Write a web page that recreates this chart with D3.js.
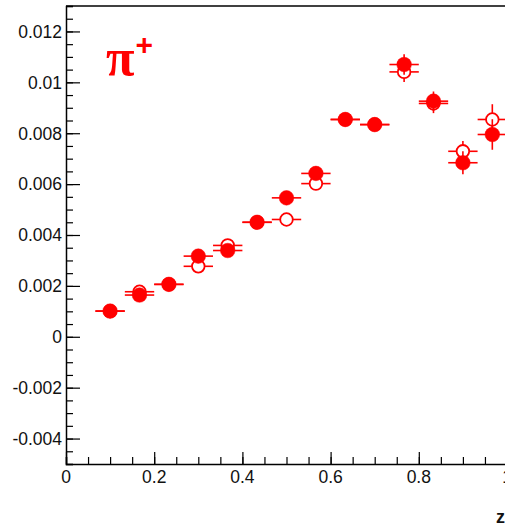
<!DOCTYPE html>
<html><head><meta charset="utf-8">
<script src="https://cdn.jsdelivr.net/npm/d3@7"></script>
<style>body{margin:0;background:#fff;overflow:hidden}</style>
</head><body>
<svg id="c" width="505" height="529"></svg>
<script>
const zBins = [0.1, 0.1667, 0.2333, 0.3, 0.3667, 0.4333, 0.5, 0.5667, 0.6333, 0.7, 0.7667, 0.8333, 0.9, 0.9667];
const binHalf = 0.0333;
const filledVals = [0.00101, 0.00164, 0.00206, 0.00317, 0.00339, 0.00450, 0.00546, 0.00642, 0.00854, 0.00834, 0.01070, 0.00926, 0.00684, 0.00795];
const filledErr  = [0.00008, 0.00010, 0.00010, 0.00012, 0.00012, 0.00013, 0.00014, 0.00016, 0.00020, 0.00022, 0.00040, 0.00038, 0.00045, 0.00060];
const openVals   = [0.00101, 0.00177, 0.00206, 0.00277, 0.00359, 0.00450, 0.00461, 0.00602, 0.00854, 0.00834, 0.01041, 0.00917, 0.00729, 0.00854];
const openErr    = [0.00008, 0.00010, 0.00010, 0.00012, 0.00012, 0.00013, 0.00014, 0.00016, 0.00020, 0.00022, 0.00040, 0.00038, 0.00040, 0.00060];
const yTicks = [-0.004, -0.002, 0, 0.002, 0.004, 0.006, 0.008, 0.01, 0.012];
const yTickLabels = ["-0.004", "-0.002", "0", "0.002", "0.004", "0.006", "0.008", "0.01", "0.012"];
const xTicks = [0, 0.2, 0.4, 0.6, 0.8, 1];
const xTickLabels = ["0", "0.2", "0.4", "0.6", "0.8", "1"];

const svg = d3.select("#c");
const x = d3.scaleLinear().domain([0, 1]).range([66, 507]);
const y = d3.scaleLinear().domain([-0.005, 0.013]).range([464, 6]);
const red = "#ff0000";
const font = "'Liberation Sans', Arial, Helvetica, sans-serif";

// frame lines
svg.append("line").attr("x1", x(0)).attr("x2", 520).attr("y1", y(0.013)).attr("y2", y(0.013)).attr("stroke", "#000").attr("stroke-width", 1.5);

// Y axis (ticks inside)
const yMinor = d3.range(-0.005, 0.01301, 0.0005);
const yAx = d3.axisRight(y).tickValues(yMinor).tickSize(7).tickFormat("");
svg.append("g").attr("transform", `translate(${x(0)},0)`).call(yAx)
  .call(g => { g.select(".domain").attr("stroke", "#000").attr("stroke-width", 1.5); g.selectAll(".tick line").attr("stroke", "#000").attr("stroke-width", 1.2); });
const yMaj = d3.axisRight(y).tickValues(yTicks).tickSize(14).tickFormat("");
svg.append("g").attr("transform", `translate(${x(0)},0)`).call(yMaj)
  .call(g => { g.select(".domain").remove(); g.selectAll(".tick line").attr("stroke", "#000").attr("stroke-width", 1.2); });
svg.append("g").selectAll("text").data(yTicks).join("text")
  .attr("x", 62).attr("y", d => y(d)).attr("dy", "0.36em").attr("text-anchor", "end")
  .attr("font-family", font).attr("font-size", 17.5).attr("fill", "#111")
  .text((d, i) => yTickLabels[i]);

// X axis (ticks inside)
const xMinor = d3.range(0, 1.0001, 0.05);
const xAx = d3.axisTop(x).tickValues(xMinor).tickSize(7).tickFormat("");
svg.append("g").attr("transform", `translate(0,${y(-0.005)})`).call(xAx)
  .call(g => { g.select(".domain").attr("stroke", "#000").attr("stroke-width", 1.5); g.selectAll(".tick line").attr("stroke", "#000").attr("stroke-width", 1.2); });
const xMaj = d3.axisTop(x).tickValues(xTicks).tickSize(12).tickFormat("");
svg.append("g").attr("transform", `translate(0,${y(-0.005)})`).call(xMaj)
  .call(g => { g.select(".domain").remove(); g.selectAll(".tick line").attr("stroke", "#000").attr("stroke-width", 1.2); });
svg.append("g").selectAll("text").data(xTicks).join("text")
  .attr("x", d => x(d)).attr("y", 483).attr("text-anchor", "middle")
  .attr("font-family", font).attr("font-size", 17.5).attr("fill", "#111")
  .text((d, i) => xTickLabels[i]);

svg.append("text").attr("x", 496).attr("y", 523).attr("font-family", font).attr("font-size", 18).attr("font-weight", "bold").attr("fill", "#111").text("z");

// label
const lab = svg.append("text").attr("x", 106).attr("y", 75).attr("fill", red).attr("font-family", "'Liberation Serif', 'Times New Roman', serif").attr("font-size", 52).attr("font-weight", "bold");
lab.append("tspan").text("π");
lab.append("tspan").attr("font-family", font).attr("font-weight", "bold").attr("font-size", 30).attr("dy", -20).attr("dx", 1).text("+");

function drawSeries(vals, errs, filled) {
  const g = svg.append("g");
  zBins.forEach((z, i) => {
    g.append("line").attr("x1", x(z - binHalf)).attr("x2", x(z + binHalf)).attr("y1", y(vals[i])).attr("y2", y(vals[i])).attr("stroke", red).attr("stroke-width", 1.6);
    g.append("line").attr("x1", x(z)).attr("x2", x(z)).attr("y1", y(vals[i] - errs[i])).attr("y2", y(vals[i] + errs[i])).attr("stroke", red).attr("stroke-width", 1.6);
  });
  g.selectAll("circle").data(zBins).join("circle")
    .attr("cx", d => x(d)).attr("cy", (d, i) => y(vals[i]))
    .attr("r", filled ? 7.3 : 6.3)
    .attr("fill", filled ? red : "#fff").attr("stroke", red).attr("stroke-width", filled ? 0.5 : 1.8);
}
drawSeries(openVals, openErr, false);
drawSeries(filledVals, filledErr, true);
</script>
</body></html>
